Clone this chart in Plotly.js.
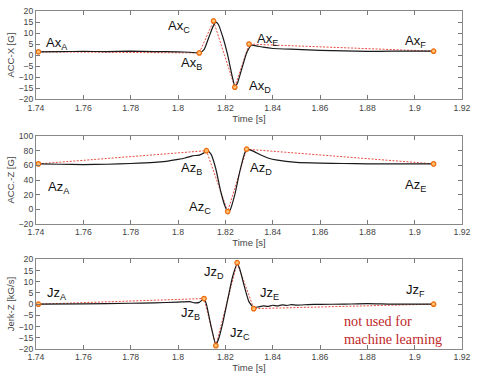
<!DOCTYPE html>
<html><head><meta charset="utf-8">
<script src="https://cdn.plot.ly/plotly-3.0.1.min.js"></script>
<style>html,body{margin:0;padding:0;background:#fff}#c{width:483px;height:382px}</style>
</head><body><div id="c"></div>
<script>
// Panel 1: ACC-X
const axT = [1.741,1.75,1.76,1.77,1.78,1.79,1.80,1.805,1.809,1.811,1.813,1.815,1.816,1.817,1.819,1.821,1.823,1.824,1.825,1.827,1.829,1.831,1.833,1.836,1.84,1.85,1.86,1.87,1.88,1.89,1.90,1.908];
const axV = [1.5,1.6,1.7,1.6,1.8,1.6,1.5,1.3,1.0,2.5,8,13.5,15,14,8,0,-10,-14,-13,-6,1,4.5,4.2,3.6,3.0,2.6,2.2,1.9,1.7,1.8,1.8,1.8];
const axKeyT = [1.741,1.809,1.815,1.824,1.830,1.908];
const axKeyV = [1.5,1.0,15.5,-14.5,5.0,1.8];
const axLabels = ['A','B','C','D','E','F'];
const axLabT = [1.749,1.8056,1.8005,1.8348,1.838,1.9003];
const axLabV = [5.5,-3.6,12.8,-14.4,6.9,6.0];

// Panel 2: ACC-Z
const azT = [1.741,1.75,1.76,1.77,1.78,1.79,1.795,1.80,1.803,1.806,1.809,1.811,1.8125,1.814,1.816,1.818,1.82,1.821,1.822,1.824,1.826,1.828,1.829,1.832,1.835,1.838,1.842,1.85,1.86,1.87,1.88,1.89,1.90,1.908];
const azV = [62,61.5,61,61.5,62.5,64,65.5,68,70,73,74,77,80,75,55,25,3,-3,-1,20,50,75,82,79,74,70,67,64,63,62.5,62,62,62,62];
const azKeyT = [1.741,1.812,1.821,1.829,1.908];
const azKeyV = [62,80,-3,82,62];
const azLabels = ['A','B','C','D','E'];
const azLabT = [1.7497,1.8056,1.8094,1.8352,1.9003];
const azLabV = [30,56,3,56,33];

// Panel 3: Jerk-Z
const jzT = [1.741,1.76,1.78,1.79,1.80,1.805,1.807,1.809,1.811,1.812,1.814,1.816,1.817,1.819,1.821,1.823,1.825,1.826,1.828,1.830,1.832,1.834,1.836,1.838,1.840,1.842,1.844,1.846,1.848,1.85,1.855,1.86,1.87,1.88,1.89,1.90,1.908];
const jzV = [0,0.1,0.4,0.6,0.9,1.1,0.6,0.8,2.5,0,-10,-18,-16,-8,2,12,18,16,8,1,-1.5,-1.2,-0.8,-1.0,-0.5,-0.8,-0.3,-0.6,-0.2,-0.4,-0.2,-0.1,0,0.2,0,0,0];
const jzKeyT = [1.741,1.811,1.816,1.825,1.832,1.908];
const jzKeyV = [0,2.5,-18.5,18.5,-2,0];
const jzLabels = ['A','B','C','D','E','F'];
const jzLabT = [1.7489,1.8051,1.8263,1.8153,1.8386,1.9003];
const jzLabV = [4.9,-4,-13,14.3,4.9,6.3];

const xTicks = [1.74,1.76,1.78,1.80,1.82,1.84,1.86,1.88,1.90,1.92];
const xTickText = ['1.74','1.76','1.78','1.8','1.82','1.84','1.86','1.88','1.9','1.92'];

const traces = [];
function addPanel(n, t, v, kt, kv){
  const xa = n===1?'x':'x'+n, ya = n===1?'y':'y'+n;
  traces.push({x:kt,y:kv,xaxis:xa,yaxis:ya,mode:'lines',line:{color:'#e5392b',width:0.9,dash:'2px,1.5px'},hoverinfo:'skip'});
  traces.push({x:t,y:v,xaxis:xa,yaxis:ya,mode:'lines',line:{color:'#1a1a1a',width:1.2,shape:'spline',smoothing:0.5}});
  traces.push({x:kt,y:kv,xaxis:xa,yaxis:ya,mode:'markers',marker:{size:4.5,color:'#ffc070',line:{color:'#ec6a0c',width:1.2}}});
}
addPanel(1,axT,axV,axKeyT,axKeyV);
addPanel(2,azT,azV,azKeyT,azKeyV);
addPanel(3,jzT,jzV,jzKeyT,jzKeyV);

const annots = [];
function addLabels(n, prefix, labs, lt, lv){
  const xa = n===1?'x':'x'+n, ya = n===1?'y':'y'+n;
  labs.forEach((l,i)=>annots.push({x:lt[i],y:lv[i],xref:xa,yref:ya,text:prefix+'<sub>'+l+'</sub>',showarrow:false,xanchor:'center',yanchor:'middle',font:{family:'Liberation Sans, Arial, sans-serif',size:13,color:'#111'}}));
}
addLabels(1,'Ax',axLabels,axLabT,axLabV);
addLabels(2,'Az',azLabels,azLabT,azLabV);
addLabels(3,'Jz',jzLabels,jzLabT,jzLabV);
annots.push({x:1.8695,y:-11.4,xref:'x3',yref:'y3',text:'not used for<br>machine learning',showarrow:false,xanchor:'left',yanchor:'middle',align:'left',font:{family:'Liberation Serif, Times New Roman, serif',size:14.2,color:'#c0282a'}});

const tickFont = {family:'Liberation Sans, Arial, sans-serif',size:8.7,color:'#444'};
function xax(anchor){
  return {anchor:anchor,domain:[0,1],range:[1.74,1.92],tickvals:xTicks,ticktext:xTickText,ticks:'inside',ticklen:4,tickcolor:'#777',
    showline:true,linecolor:'#888',linewidth:1,mirror:'ticks',showgrid:false,zeroline:false,tickfont:tickFont,
    title:{text:'Time [s]',font:{family:'Liberation Sans, Arial, sans-serif',size:9.5,color:'#444'},standoff:1}};
}
function yax(anchor, dom, rng, dt, title){
  return {anchor:anchor,domain:dom,range:rng,dtick:dt,tick0:0,ticks:'inside',ticklen:4,tickcolor:'#777',
    showline:true,linecolor:'#888',linewidth:1,mirror:'ticks',showgrid:false,zeroline:false,tickfont:tickFont,
    title:{text:title,font:{family:'Liberation Sans, Arial, sans-serif',size:9.5,color:'#444'},standoff:2}};
}
const layout = {
  width:483,height:382,margin:{l:36,r:21,t:11,b:33},showlegend:false,
  paper_bgcolor:'#fff',plot_bgcolor:'#fff',
  xaxis:xax('y'),xaxis2:xax('y2'),xaxis3:xax('y3'),
  yaxis:yax('x',[0.7388,1],[-20,20],5,'ACC-X [G]'),
  yaxis2:yax('x2',[0.3698,0.6302],[-20,100],20,'ACC.-Z [G]'),
  yaxis3:yax('x3',[0,0.2654],[-20,20],5,'Jerk-Z [kG/s]'),
  annotations:annots
};
Plotly.newPlot('c',traces,layout,{staticPlot:true,displayModeBar:false});
</script></body></html>
